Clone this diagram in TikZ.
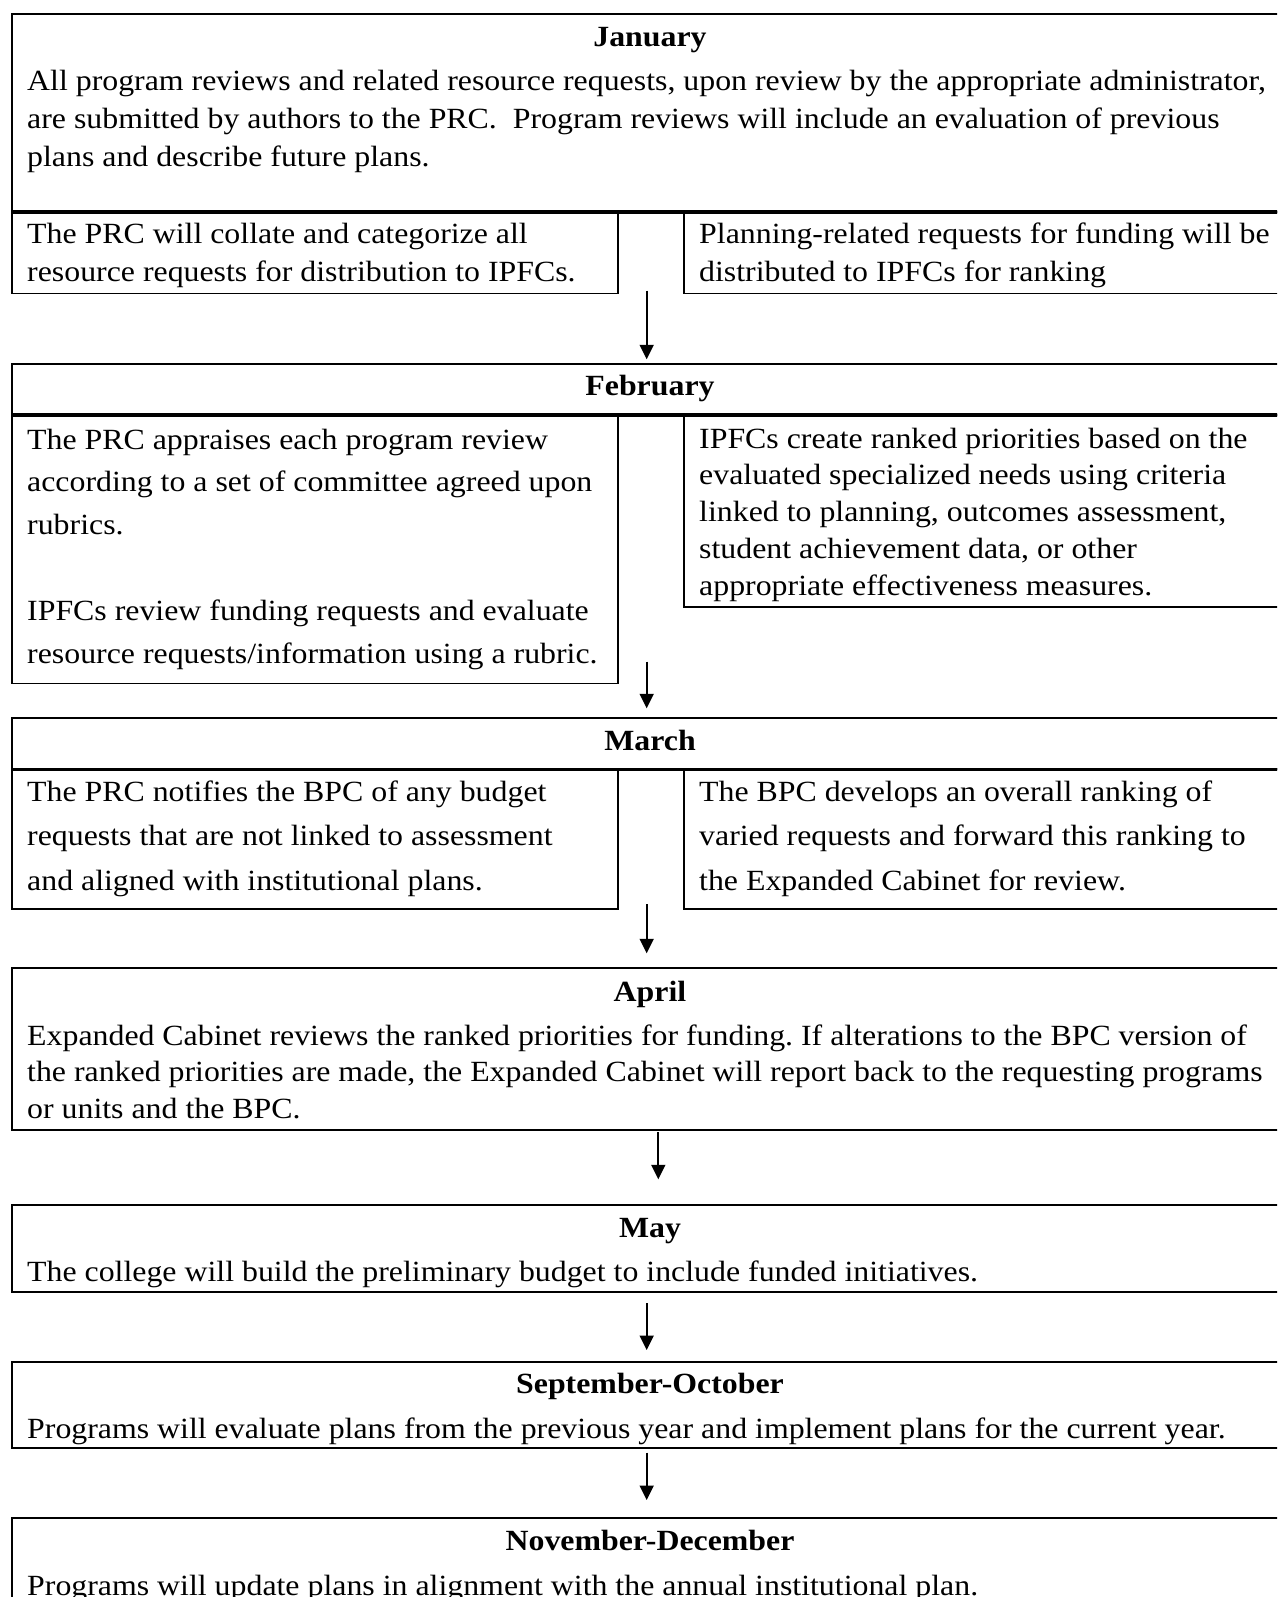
\documentclass[tikz,border=0pt]{standalone}
\usepackage{fontspec}
\setmainfont[FakeStretch=1.087]{Liberation Serif}
\usetikzlibrary{arrows.meta}
\frenchspacing

% Multi-line text nodes are anchored at the baseline of their last line.
\tikzset{
  frame/.style={draw, line width=1.8pt, inner sep=0pt, outer sep=0pt, anchor=north west},
  sepline/.style={line width=3.4pt},
  body/.style={anchor=base west, inner sep=0pt, align=left,
               font=\fontsize{29.3}{#1}\selectfont},
  body/.default=38,
  head/.style={anchor=base, inner sep=0pt, font=\fontsize{29.3}{36}\selectfont\bfseries},
  arr/.style={line width=1.7pt, -{Triangle[length=14.5pt,width=14pt]}},
}

\begin{document}
\begin{tikzpicture}[x=1pt,y=-1pt]
\useasboundingbox (0,0) rectangle (1277,1597);
\clip (0,0) rectangle (1277,1597);

% ---------- January ----------
\node[frame, minimum width=1276pt, minimum height=198pt] (jan) at (12,14) {};
\node[frame, minimum width=606pt, minimum height=81.5pt] (janL) at (12,212) {};
\node[frame, minimum width=604pt, minimum height=81.5pt] (janR) at (684,212) {};
\draw[sepline] (jan.south west) -- (jan.south east);
\node[head] (janHead) at (650,47) {January};
\node[body=37.7] (janText) at (27,166.1) {All program reviews and related resource requests, upon review by the appropriate administrator,\\
are submitted by authors to the PRC.\ \ Program reviews will include an evaluation of previous\\
plans and describe future plans.};
\node[body=38.2] (janLText) at (27,281.7) {The PRC will collate and categorize all\\
resource requests for distribution to IPFCs.};
\node[body=38.2] (janRText) at (699,281.7) {Planning-related requests for funding will be\\
distributed to IPFCs for ranking};

% ---------- February ----------
\node[frame, minimum width=1276pt, minimum height=51pt] (feb) at (12,364) {};
\node[frame, minimum width=606pt, minimum height=268.5pt] (febL) at (12,415) {};
\node[frame, minimum width=604pt, minimum height=192pt] (febR) at (684,415) {};
\draw[sepline] (feb.south west) -- (feb.south east);
\node[head] (febHead) at (650,395) {February};
\node[body=42.8] (febLText) at (27,663) {The PRC appraises each program review\\
according to a set of committee agreed upon\\
rubrics.\\[42.8pt]
IPFCs review funding requests and evaluate\\
resource requests/information using a rubric.};
\node[body=36.8] (febRText) at (699,595.2) {IPFCs create ranked priorities based on the\\
evaluated specialized needs using criteria\\
linked to planning, outcomes assessment,\\
student achievement data, or other\\
appropriate effectiveness measures.};

% ---------- March ----------
\node[frame, minimum width=1276pt, minimum height=51pt] (mar) at (12,718.3) {};
\node[frame, minimum width=606pt, minimum height=140pt] (marL) at (12,769.3) {};
\node[frame, minimum width=604pt, minimum height=140pt] (marR) at (684,769.3) {};
\draw[sepline] (mar.south west) -- (mar.south east);
\node[head] (marHead) at (650,750) {March};
\node[body=44.2] (marLText) at (27,890.1) {The PRC notifies the BPC of any budget\\
requests that are not linked to assessment\\
and aligned with institutional plans.};
\node[body=44.2] (marRText) at (699,890.1) {The BPC develops an overall ranking of\\
varied requests and forward this ranking to\\
the Expanded Cabinet for review.};

% ---------- April ----------
\node[frame, minimum width=1276pt, minimum height=161.7pt] (apr) at (12,968.3) {};
\node[head] (aprHead) at (650,1001.7) {April};
\node[body=36.5] (aprText) at (27,1118) {Expanded Cabinet reviews the ranked priorities for funding. If alterations to the BPC version of\\
the ranked priorities are made, the Expanded Cabinet will report back to the requesting programs\\
or units and the BPC.};

% ---------- May ----------
\node[frame, minimum width=1276pt, minimum height=86.7pt] (may) at (12,1205) {};
\node[head] (mayHead) at (650,1237.3) {May};
\node[body] (mayText) at (27,1281.7) {The college will build the preliminary budget to include funded initiatives.};

% ---------- September-October ----------
\node[frame, minimum width=1276pt, minimum height=86pt] (sep) at (12,1362.3) {};
\node[head] (sepHead) at (650,1393.3) {September-October};
\node[body] (sepText) at (27,1438) {Programs will evaluate plans from the previous year and implement plans for the current year.};

% ---------- November-December ----------
\node[frame, minimum width=1276pt, minimum height=130pt] (nov) at (12,1518.3) {};
\node[head] (novHead) at (650,1550) {November-December};
\node[body] (novText) at (27,1595) {Programs will update plans in alignment with the annual institutional plan.};

% ---------- flow arrows ----------
\coordinate (a1s) at (646.7,290.7);  \coordinate (a1e) at (646.7,359.3);
\coordinate (a2s) at (646.7,661.7);  \coordinate (a2e) at (646.7,708.3);
\coordinate (a3s) at (646.7,904);    \coordinate (a3e) at (646.7,953.3);
\coordinate (a4s) at (658.3,1132);   \coordinate (a4e) at (658.3,1179.3);
\coordinate (a5s) at (646.7,1303);   \coordinate (a5e) at (646.7,1350);
\coordinate (a6s) at (646.7,1452.7); \coordinate (a6e) at (646.7,1500);
\draw[arr] (a1s) -- (a1e);
\draw[arr] (a2s) -- (a2e);
\draw[arr] (a3s) -- (a3e);
\draw[arr] (a4s) -- (a4e);
\draw[arr] (a5s) -- (a5e);
\draw[arr] (a6s) -- (a6e);
\end{tikzpicture}
\end{document}
